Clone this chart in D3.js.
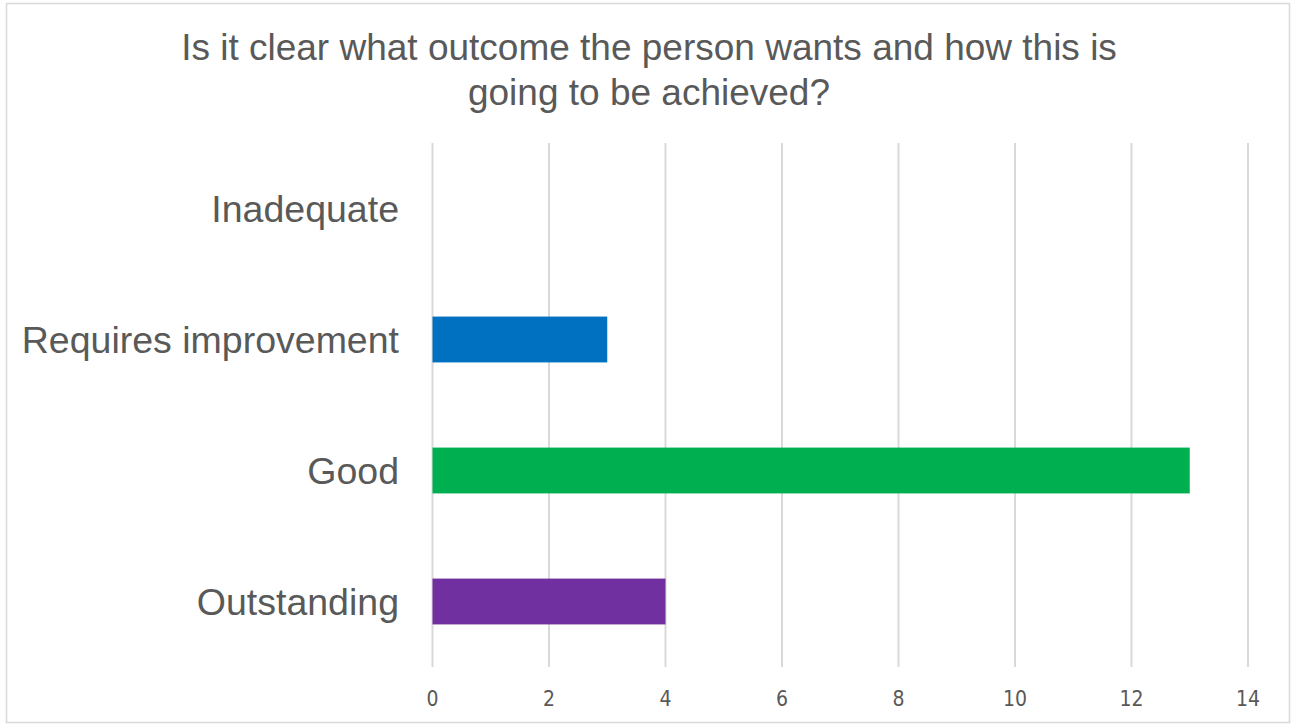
<!DOCTYPE html>
<html><head><meta charset="utf-8">
<script src="https://cdn.jsdelivr.net/npm/d3@7"></script>
<style>body{margin:0;background:#fff;font-family:"Liberation Sans",Arial,sans-serif;}</style>
</head><body>
<svg id="c" width="1295" height="726"></svg>
<script>
const categories = ["Inadequate","Requires improvement","Good","Outstanding"];
const values = [0,3,13,4];
const colors = ["#4472C4","#0070C0","#00B050","#7030A0"];
const ticks = [0,2,4,6,8,10,12,14];
const titleLines = ["Is it clear what outcome the person wants and how this is","going to be achieved?"];

const svg = d3.select("#c");
svg.append("rect").attr("x",6.5).attr("y",3.5).attr("width",1283).attr("height",719)
  .attr("fill","#fff").attr("stroke","#d9d9d9").attr("stroke-width",1.5);

const x = d3.scaleLinear().domain([0,14]).range([432.5,1248]);
const y = d3.scaleBand().domain(categories).range([143,667]).paddingInner(0.65).paddingOuter(0.325);

svg.append("g").selectAll("line").data(ticks).join("line")
  .attr("x1",d=>x(d)).attr("x2",d=>x(d)).attr("y1",143).attr("y2",667)
  .attr("stroke","#d9d9d9").attr("stroke-width",2);

svg.append("g").selectAll("rect").data(categories).join("rect")
  .attr("x",x(0)).attr("y",d=>y(d)).attr("height",y.bandwidth())
  .attr("width",(d,i)=>x(values[i])-x(0)).attr("fill",(d,i)=>colors[i]);

svg.append("g").selectAll("text").data(categories).join("text")
  .attr("x",399).attr("y",d=>y(d)+y.bandwidth()/2).attr("dy","0.35em")
  .attr("text-anchor","end").attr("fill","#595959").attr("font-size",37.5)
  .attr("textLength",(d,i)=>null).text(d=>d);

svg.append("g").selectAll("text").data(ticks).join("text")
  .attr("x",d=>x(d)).attr("y",699).attr("dy","0.35em").attr("text-anchor","middle")
  .attr("fill","#595959").attr("font-size",21)
  .attr("font-family","'Liberation Sans Narrow','DejaVu Sans Condensed',sans-serif").text(d=>d);

svg.append("g").selectAll("text").data(titleLines).join("text")
  .attr("x",649).attr("y",(d,i)=>47+i*45).attr("dy","0.35em").attr("text-anchor","middle")
  .attr("fill","#595959").attr("font-size",37).text(d=>d);
</script>
</body></html>
